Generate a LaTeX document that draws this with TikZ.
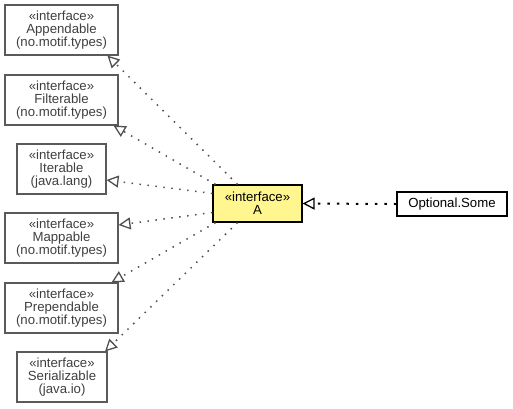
\documentclass[tikz,border=0pt]{standalone}
\usepackage{fontspec}
\setmainfont{Liberation Sans}
\usetikzlibrary{arrows.meta}
\definecolor{boxgray}{HTML}{5A5A5A}
\definecolor{txtgray}{HTML}{404040}
\definecolor{dotgray}{HTML}{505050}
\definecolor{ayellow}{HTML}{FFF68F}
\tikzset{
  ibox/.style={draw=boxgray, line width=1.1pt, fill=white, text=txtgray, align=center, inner sep=0pt,
    font=\fontsize{13.2}{13.3}\selectfont},
  mainbox/.style={draw=black, line width=1.2pt, fill=ayellow, text=black, align=center, inner sep=0pt,
    minimum width=89pt, minimum height=37pt, font=\fontsize{13.2}{13.3}\selectfont},
  plainbox/.style={draw=black, line width=1.2pt, fill=white, text=black, align=center, inner sep=0pt,
    minimum width=110pt, minimum height=24pt, font=\fontsize{13.2}{13.3}\selectfont},
  real/.style={draw=dotgray, line width=1.5pt, dash pattern=on 1.5pt off 6.5pt,
    -{Triangle[open, length=12pt, width=12pt, line width=1.3pt]}},
  realb/.style={draw=black, line width=2pt, dash pattern=on 2.5pt off 7pt,
    -{Triangle[open, length=12pt, width=12pt, line width=1.3pt]}},
}
\begin{document}
\begin{tikzpicture}[x=1pt,y=-1pt]
\useasboundingbox (0,0) rectangle (513,408);
\node[ibox, minimum width=113pt, minimum height=50pt] (app) at (61.5,30) {«interface»\\Appendable\\(no.motif.types)};
\node[ibox, minimum width=113pt, minimum height=50pt] (fil) at (61.5,100) {«interface»\\Filterable\\(no.motif.types)};
\node[ibox, minimum width=89pt, minimum height=50pt] (ite) at (61.5,169) {«interface»\\Iterable\\(java.lang)};
\node[ibox, minimum width=113pt, minimum height=50pt] (map) at (61.5,238) {«interface»\\Mappable\\(no.motif.types)};
\node[ibox, minimum width=113pt, minimum height=50pt] (pre) at (61.5,308) {«interface»\\Prependable\\(no.motif.types)};
\node[ibox, minimum width=90pt, minimum height=50pt] (ser) at (62,377) {«interface»\\Serializable\\(java.io)};
\node[mainbox] (A) at (257.5,203.5) {«interface»\\A};
\node[plainbox] (opt) at (452,204) {Optional.Some};

\draw[real] ([xshift=-20pt]A.north) -- ([xshift=46pt]app.south);
\draw[real] ([xshift=-42pt]A.north) -- ([xshift=52pt]fil.south);
\draw[real] ([yshift=10pt]A.west) -- ([yshift=-11pt]ite.east);
\draw[real] ([yshift=-9pt]A.west) -- ([yshift=13pt]map.east);
\draw[real] ([xshift=-42pt]A.south) -- ([xshift=50pt]pre.north);
\draw[real] ([xshift=-20pt]A.south) -- ([xshift=43pt]ser.north);
\draw[realb] (opt.west) -- (A.east);
\end{tikzpicture}
\end{document}
